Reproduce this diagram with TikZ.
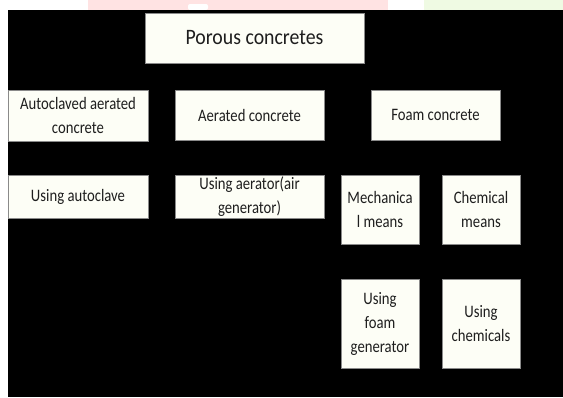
\documentclass[tikz,border=0pt]{standalone}
\usepackage{fontspec}
\setmainfont[FakeStretch=0.84]{Carlito}
\newfontfamily\headfont[FakeStretch=0.9]{Carlito}
\usepackage{xcolor}
\usepackage{tikz}
\definecolor{bg}{HTML}{000000}
\definecolor{boxfill}{HTML}{FDFEF6}
\definecolor{boxline}{HTML}{8A8A8A}
\definecolor{ink}{HTML}{1E1E1E}
\definecolor{pinkband}{HTML}{FFE3E3}
\definecolor{greenband}{HTML}{EFFAE3}
\tikzset{
  box/.style={draw=boxline, fill=boxfill, line width=0.6pt, text=ink, align=center,
    inner sep=0pt, font=\fontsize{17.5}{24}\selectfont},
  titlebox/.style={box, font=\headfont\fontsize{22}{26}\selectfont},
}

\begin{document}
\begin{tikzpicture}[x=1pt, y=-1pt]
  \useasboundingbox (0,0) rectangle (563,397);
  % page strip and dark panel
  \fill[white] (0,0) rectangle (563,10);
  \fill[pinkband] (88,0) rectangle (388,10);
  \fill[greenband] (424,0) rectangle (563,10);
  \fill[white, rounded corners=2pt] (188,4) rectangle (208,10);
  \fill[bg] (8,10) rectangle (563,397);
  % top level
  \node[titlebox, minimum width=219pt, minimum height=50pt] (porous) at (254.5,38) {Porous concretes};
  % kinds
  \node[box, minimum width=140pt, minimum height=51pt] (autoclaved) at (78,115.5) {Autoclaved aerated\\concrete};
  \node[box, minimum width=149pt, minimum height=50pt] (aerated) at (249.5,115) {Aerated concrete};
  \node[box, minimum width=129pt, minimum height=50pt] (foam) at (435.5,115) {Foam concrete};
  % methods
  \node[box, minimum width=140pt, minimum height=43pt] (autoclave) at (78,196.5) {Using autoclave};
  \node[box, minimum width=149pt, minimum height=43pt] (aerator) at (249.5,196.5) {Using aerator(air\\generator)};
  \node[box, minimum width=78pt, minimum height=69pt] (mech) at (380,209.5) {Mechanica\\l means};
  \node[box, minimum width=78pt, minimum height=69pt] (chem) at (481,209.5) {Chemical\\means};
  \node[box, minimum width=78pt, minimum height=89pt] (foamgen) at (380,323.5) {Using\\foam\\generator};
  \node[box, minimum width=78pt, minimum height=89pt] (chemicals) at (481,323.5) {Using\\chemicals};
\end{tikzpicture}
\end{document}
